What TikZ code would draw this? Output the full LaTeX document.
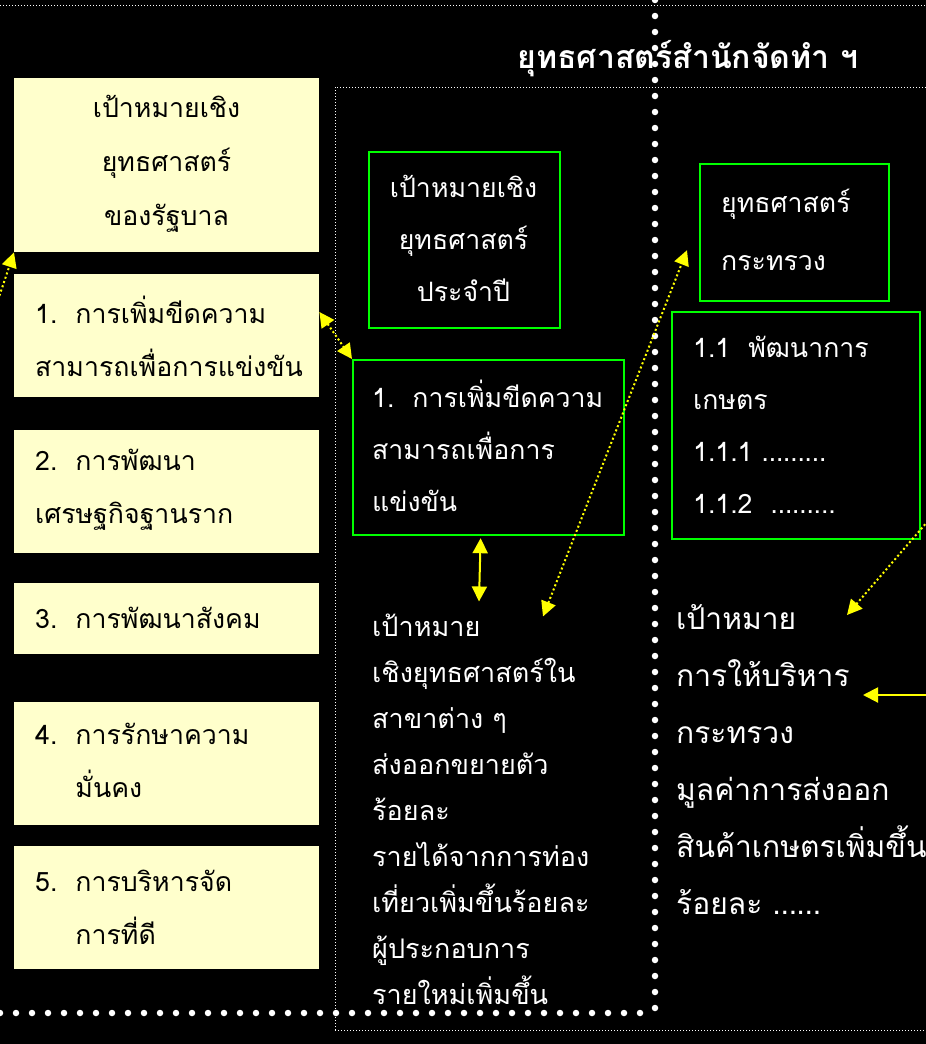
\documentclass[tikz,border=0pt]{standalone}
\usepackage{fontspec}
\setmainfont[Script=Thai]{Loma}
\usetikzlibrary{arrows.meta,calc}
\definecolor{lightyel}{RGB}{255,255,204}
\definecolor{grn}{RGB}{0,255,0}
\definecolor{yel}{RGB}{255,255,0}
\begin{document}
\begin{tikzpicture}[x=1pt,y=-1pt,
  ybox/.style={fill=lightyel, draw=none, inner sep=0pt, anchor=north west, minimum width=305pt},
  gbox/.style={draw=grn, line width=2.2pt, fill=black, inner sep=0pt, anchor=north west},
  btext/.style={text=black, inner sep=0pt, align=left, font=\fontsize{26.7}{53}\selectfont},
  ctext/.style={text=black, inner sep=0pt, align=center, font=\fontsize{26.7}{54}\selectfont},
  wtext/.style={text=white, inner sep=0pt, align=left, font=\fontsize{26.7}{52}\selectfont},
  thindot/.style={white, line width=1pt, dash pattern=on 1pt off 2pt},
  bigdot/.style={white, line width=6.5pt, line cap=round, dash pattern=on 0pt off 16pt},
  ydot/.style={yel, line width=2pt, dash pattern=on 2pt off 2.5pt},
  ysolid/.style={yel, line width=2pt},
  tip/.tip={Triangle[length=15pt,width=15pt]}
]
\fill[black] (0,0) rectangle (926,1044);
\useasboundingbox (0,0) rectangle (926,1044);

% dotted frame lines
\draw[thindot] (0,5) -- (926,5);
\draw[thindot] (335,1030) -- (335,87) -- (926,87);
\draw[thindot] (335,1030) -- (926,1030);

% title
\node[text=white, inner sep=0pt, font=\fontsize{32}{36}\selectfont\bfseries] (title) at (688,59) {ยุทธศาสตร์สำนักจัดทำ ฯ};

% big dotted separators
\draw[bigdot] (655,0) -- (655,1013);
\draw[bigdot] (0,1013) -- (655,1013);

% left yellow boxes
\node[ybox, minimum height=174pt] (b0) at (14,78) {};
\node[ctext] (t0) at (166.5,164) {เป้าหมายเชิง\\ยุทธศาสตร์\\ของรัฐบาล};
\node[ybox, minimum height=123pt] (b1) at (14,274) {};
\node[btext, anchor=west] (t1) at (35,336) {1.\ \ การเพิ่มขีดความ\\สามารถเพื่อการแข่งขัน};
\node[ybox, minimum height=123pt] (b2) at (14,430) {};
\node[btext, anchor=west] (t2) at (35,490) {2.\ \ การพัฒนา\\เศรษฐกิจฐานราก};
\node[ybox, minimum height=71pt] (b3) at (14,583) {};
\node[btext, anchor=west] (t3) at (35,618) {3.\ \ การพัฒนาสังคม};
\node[ybox, minimum height=123pt] (b4) at (14,702) {};
\node[btext, anchor=west] (t4) at (35,760) {4.\ \ การรักษาความ\\\phantom{4.\ \ }มั่นคง};
\node[ybox, minimum height=123pt] (b5) at (14,846) {};
\node[btext, anchor=west] (t5) at (35,907) {5.\ \ การบริหารจัด\\\phantom{5.\ \ }การที่ดี};

% green boxes
\node[gbox, minimum width=191pt, minimum height=176pt] (g1) at (368,151) {};
\node[wtext, align=center] (gt1) at (463.5,238) {เป้าหมายเชิง\\ยุทธศาสตร์\\ประจำปี};
\node[gbox, minimum width=271pt, minimum height=175pt] (g2) at (352,359) {};
\node[wtext, anchor=west] (gt2) at (372,446) {1.\ \ การเพิ่มขีดความ\\สามารถเพื่อการ\\แข่งขัน};
\node[gbox, minimum width=189pt, minimum height=137pt] (g3) at (699,163) {};
\node[wtext, anchor=west, font=\fontsize{26.7}{58}\selectfont] (gt3) at (721,230) {ยุทธศาสตร์\\กระทรวง};
\node[gbox, minimum width=248pt, minimum height=227pt] (g4) at (671,311) {};
\node[wtext, anchor=west] (gt4) at (693,425) {1.1\ \ พัฒนาการ\\เกษตร\\1.1.1 ………\\1.1.2\ \ ……...};

% free texts
\node[wtext, anchor=west, font=\fontsize{27}{46}\selectfont] (mt) at (372,809) {เป้าหมาย\\เชิงยุทธศาสตร์ใน\\สาขาต่าง ๆ\\ส่งออกขยายตัว\\ร้อยละ\\รายได้จากการท่อง\\เที่ยวเพิ่มขึ้นร้อยละ\\ผู้ประกอบการ\\รายใหม่เพิ่มขึ้น};
\node[wtext, anchor=west, font=\fontsize{30}{57}\selectfont] (rt) at (676,760) {เป้าหมาย\\การให้บริหาร\\กระทรวง\\มูลค่าการส่งออก\\สินค้าเกษตรเพิ่มขึ้น\\ร้อยละ ……};

% connectors
\coordinate (lin) at (-2,300);
\draw[ydot, -tip] (lin) -- (b0.south west);
\draw[ydot, tip-tip] ($(b1.north east)+(0,38)$) -- (g2.north west);
\draw[ysolid, tip-tip] ($(g2.south)+(-8,2)$) -- ($(mt.north west)+(107,-12)$);
\draw[ydot, tip-tip] ($(mt.north west)+(171,3)$) -- ($(g3.south west)+(-12,-52)$);
\coordinate (rin) at (934,514);
\coordinate (rtipA) at (847,615);
\draw[ydot, -tip] (rin) -- (rtipA);
\coordinate (rin2) at (930,695);
\coordinate (rtipB) at (863,695);
\draw[ysolid, -tip] (rin2) -- (rtipB);
\end{tikzpicture}
\end{document}
